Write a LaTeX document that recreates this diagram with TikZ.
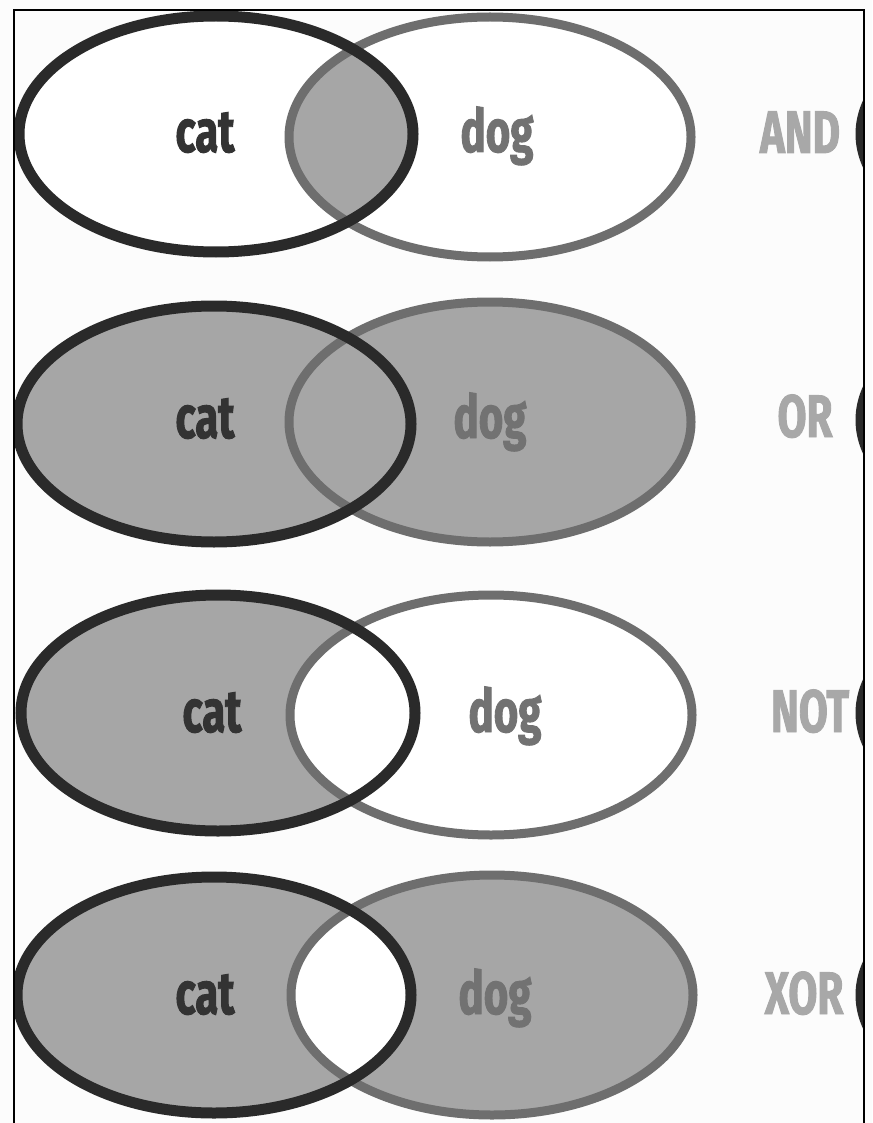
\documentclass[tikz,border=0pt]{standalone}
\usepackage{fontspec}
\newfontfamily\gothic{Fira Sans}[FakeStretch=0.7, FakeBold=1.5]
\definecolor{bgc}{HTML}{FCFCFC}
\definecolor{catc}{HTML}{2A2A2A}
\definecolor{dogc}{HTML}{6E6E6E}
\definecolor{fillc}{HTML}{A6A6A6}
\definecolor{cattext}{HTML}{333333}
\definecolor{dogtext}{HTML}{727272}
\definecolor{optext}{HTML}{A8A8A8}
\tikzset{
  catline/.style={draw=catc, line width=11pt},
  dogline/.style={draw=dogc, line width=9pt},
  shaded/.style={fill=fillc},
  word/.style={font=\gothic\bfseries\fontsize{60}{60}\selectfont, anchor=base, inner sep=0pt},
  catword/.style={word, text=cattext},
  dogword/.style={word, text=dogtext},
  opword/.style={word, text=optext},
  catell/.style={x radius=197pt, y radius=118pt},
  dogell/.style={x radius=201pt, y radius=120pt},
  frameline/.style={draw=black, line width=2pt}
}
\begin{document}
\begin{tikzpicture}[x=1pt, y=-1pt]
\useasboundingbox (0,0) rectangle (872,1123);
\fill[bgc] (0,0) rectangle (872,1123);
\begin{scope}
\clip (14,10) rectangle (864,1130);
% ---------- Row 1: AND ----------
\fill[white] (216,134) ellipse [catell];
\fill[white] (490,137) ellipse [dogell];
\begin{scope}
  \clip (216,134) ellipse [catell];
  \fill[fillc] (490,137) ellipse [dogell];
\end{scope}
\draw[dogline] (490,137) ellipse [dogell];
\draw[catline] (216,134) ellipse [catell];
% ---------- Row 2: OR ----------
\fill[fillc] (214,424) ellipse [catell];
\fill[fillc] (490,422) ellipse [dogell];
\draw[dogline] (490,422) ellipse [dogell];
\draw[catline] (214,424) ellipse [catell];
% ---------- Row 3: NOT ----------
\fill[fillc] (218,713) ellipse [catell];
\fill[white] (491,715) ellipse [dogell];
\draw[dogline] (491,715) ellipse [dogell];
\draw[catline] (218,713) ellipse [catell];
% ---------- Row 4: XOR ----------
\fill[fillc] (214,995) ellipse [catell];
\fill[fillc] (492,995) ellipse [dogell];
\begin{scope}
  \clip (214,995) ellipse [catell];
  \fill[white] (492,995) ellipse [dogell];
\end{scope}
\draw[dogline] (492,995) ellipse [dogell];
\draw[catline] (214,995) ellipse [catell];
% ---------- next column, cut off at the right ----------
\draw[catline] (1058,134) ellipse [catell];
\draw[catline] (1058,420) ellipse [catell];
\draw[catline] (1058,713) ellipse [catell];
\draw[catline] (1058,995) ellipse [catell];
\end{scope}
% frame
\draw[frameline] (14,1123) -- (14,10) -- (864,10) -- (864,1123);
% texts
\node[catword] (cat1) at (205,152) {cat};
\node[dogword] (dog1) at (497,152) {dog};
\node[opword]  (and)  at (800,153) {AND};
\node[catword] (cat2) at (205,438) {cat};
\node[dogword] (dog2) at (490,438) {dog};
\node[opword]  (or)   at (805,437) {OR};
\node[catword] (cat3) at (212,732) {cat};
\node[dogword] (dog3) at (505,732) {dog};
\node[opword]  (not)  at (810,732) {NOT};
\node[catword] (cat4) at (205,1014) {cat};
\node[dogword] (dog4) at (495,1014) {dog};
\node[opword]  (xor)  at (804,1014) {XOR};
\end{tikzpicture}
\end{document}
